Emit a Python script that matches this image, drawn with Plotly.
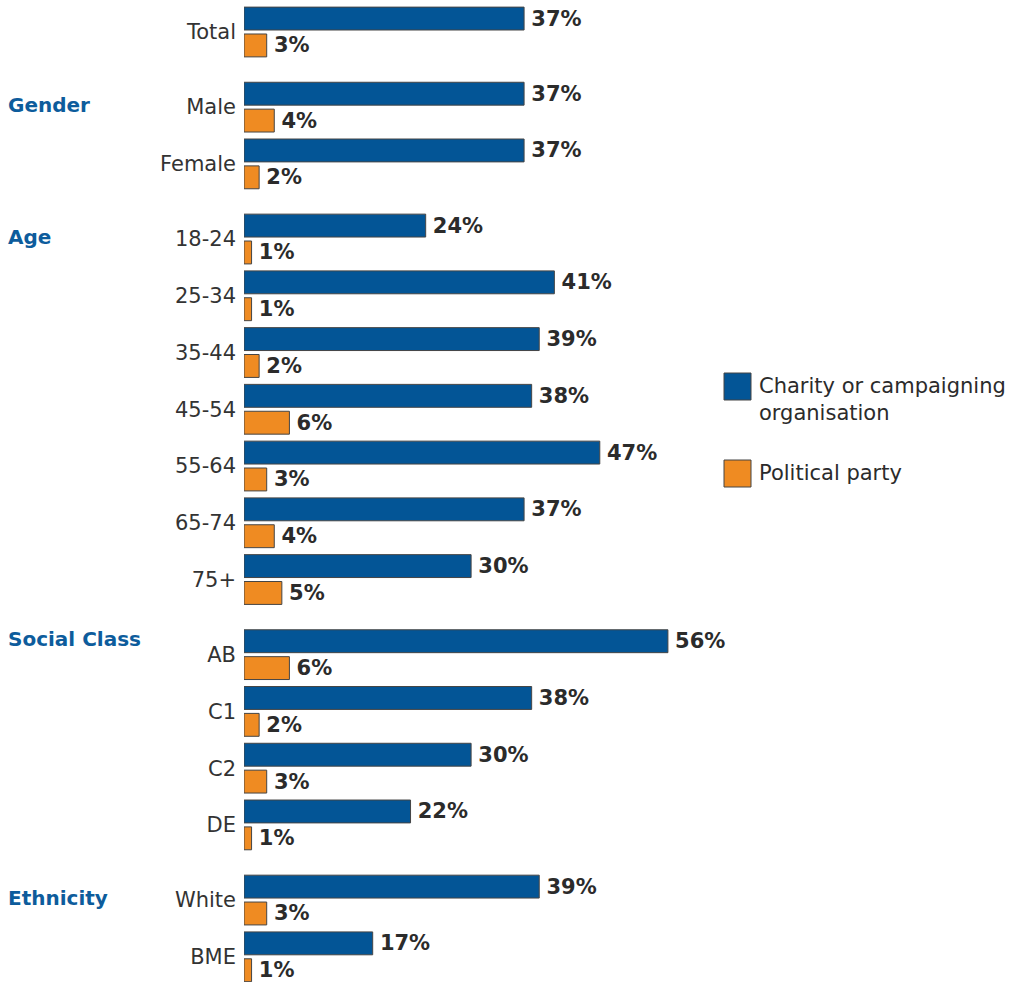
import plotly.graph_objects as go

# Survey breakdown: share who gave to a charity / campaigning organisation vs a political party
groups = ["", "Gender", "Age", "Social Class", "Ethnicity"]
categories = ["Total", "Male", "Female",
              "18-24", "25-34", "35-44", "45-54", "55-64", "65-74", "75+",
              "AB", "C1", "C2", "DE",
              "White", "BME"]
category_group = [0, 1, 1, 2, 2, 2, 2, 2, 2, 2, 3, 3, 3, 3, 4, 4]
charity = [37, 37, 37, 24, 41, 39, 38, 47, 37, 30, 56, 38, 30, 22, 39, 17]
party = [3, 4, 2, 1, 1, 2, 6, 3, 4, 5, 6, 2, 3, 1, 3, 1]

series_names = ["Charity or campaigning<br>organisation", "Political party"]

BLUE = "#035596"
ORANGE = "#EF8B22"
OUTLINE = "#454545"
TEXT = "#2b2b2b"
HEAD = "#0D5C9C"
FONT = "DejaVu Sans"

W, H = 1020, 982
ML = 244
GROUP_GAP = 0.324

# row positions: one slot per category, extra space between groups
pos = [i + GROUP_GAP * g for i, g in enumerate(category_group)]

fig = go.Figure()
for vals, col in [(charity, BLUE), (party, ORANGE)]:
    fig.add_trace(go.Bar(
        x=vals, y=pos, orientation="h",
        marker=dict(color=col, line=dict(color=OUTLINE, width=1)),
        texttemplate="\u2009%{x}%", textposition="outside",
        textfont=dict(family=FONT, size=21, color=TEXT, weight="bold"),
        constraintext="none", cliponaxis=False,
        showlegend=False, hoverinfo="skip",
    ))

px_per_unit = 56.75
y_top = -32 / px_per_unit
y_bot = (H - 32) / px_per_unit
px_per_pct = 7.57
x_max = (W - ML) / px_per_pct

fig.update_layout(
    width=W, height=H,
    margin=dict(l=ML, r=0, t=0, b=0),
    paper_bgcolor="white", plot_bgcolor="white",
    barmode="group", bargap=0.053, bargroupgap=0.148,
    font=dict(family=FONT, size=21, color=TEXT),
    xaxis=dict(range=[0, x_max], visible=False, fixedrange=True),
    yaxis=dict(range=[y_bot, y_top], tickvals=pos, ticktext=categories,
               showgrid=False, zeroline=False, showline=False, ticks="",
               ticklabelstandoff=7,
               tickfont=dict(family=FONT, size=21, color="#333333")),
)


# paper coordinates from pixel positions (paper x spans the plot area only)
def px_x(p):
    return (p - ML) / (W - ML)


def px_y(p):
    return 1 - p / H


# group headings on the far left
head_shift = {"Social Class": -0.27}
for gi, name in enumerate(groups):
    if not name:
        continue
    first = category_group.index(gi)
    fig.add_annotation(
        x=px_x(6), xref="paper", xanchor="left",
        y=pos[first] + head_shift.get(name, -0.04), yref="y", yanchor="middle",
        text=f"<b>{name}</b>", showarrow=False,
        font=dict(family=FONT, size=20, color=HEAD),
    )

# legend drawn as swatches + labels
legend_items = [(series_names[0], BLUE, 373), (series_names[1], ORANGE, 460)]
for label, col, top in legend_items:
    fig.add_shape(type="rect", xref="paper", yref="paper",
                  x0=px_x(724), x1=px_x(751), y0=px_y(top), y1=px_y(top + 27),
                  fillcolor=col, line=dict(color=OUTLINE, width=1))
    fig.add_annotation(x=px_x(757), xref="paper", xanchor="left",
                       y=px_y(top - 1), yref="paper", yanchor="top",
                       text=label, align="left", showarrow=False,
                       font=dict(family=FONT, size=21, color=TEXT))

fig.write_html("out.html")
